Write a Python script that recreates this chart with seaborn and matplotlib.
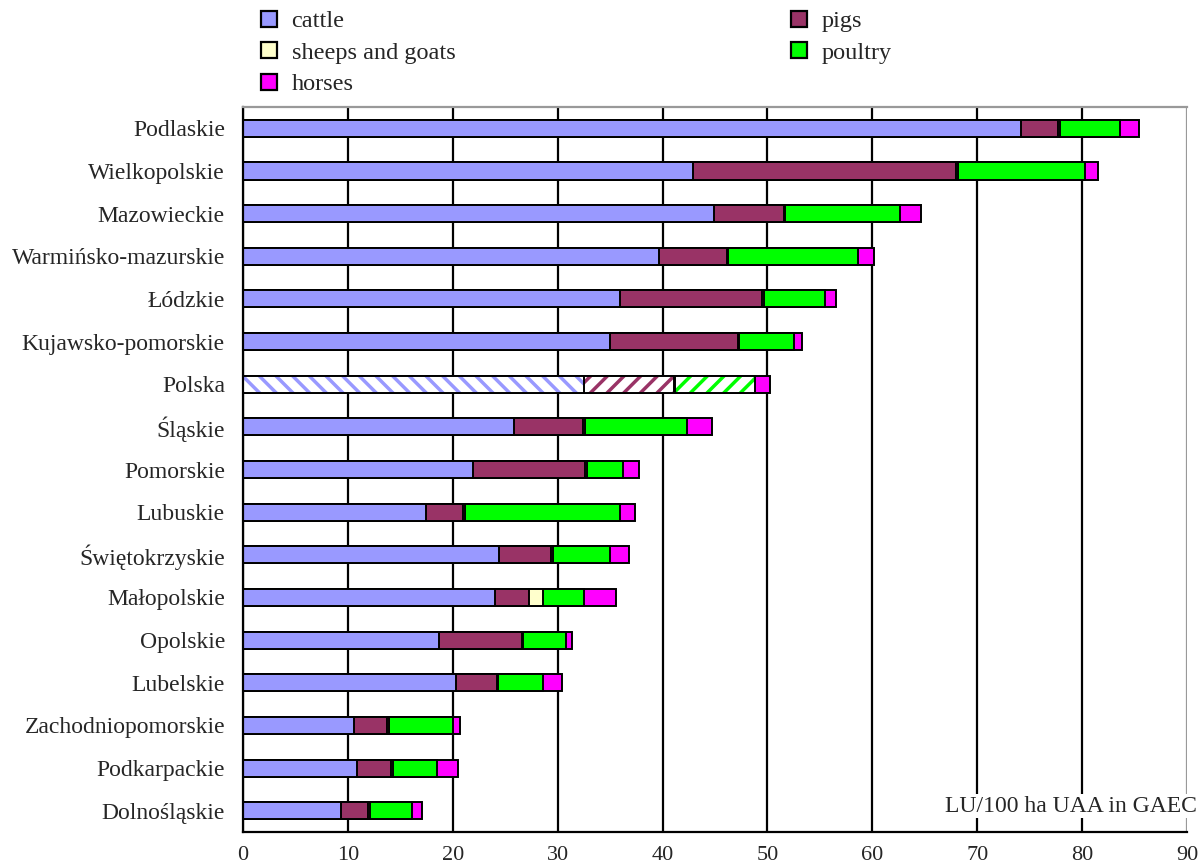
import matplotlib
matplotlib.use('Agg')
import matplotlib.pyplot as plt
from matplotlib.lines import Line2D
import matplotlib.colors as mcolors
import pandas as pd
import seaborn as sns
import numpy as np

regions = ['Podlaskie', 'Wielkopolskie', 'Mazowieckie', 'Warmińsko-mazurskie',
           'Łódzkie', 'Kujawsko-pomorskie', 'Polska', 'Śląskie', 'Pomorskie',
           'Lubuskie', 'Świętokrzyskie', 'Małopolskie', 'Opolskie', 'Lubelskie',
           'Zachodniopomorskie', 'Podkarpackie', 'Dolnośląskie']

cattle = [74.2, 42.9, 44.9, 39.7, 35.9, 35.0, 32.5, 25.8, 21.9, 17.4, 24.4, 24.0, 18.7, 20.3, 10.6, 10.9, 9.3]
pigs = [3.5, 25.1, 6.7, 6.4, 13.6, 12.2, 8.6, 6.6, 10.7, 3.6, 5.0, 3.3, 7.9, 3.9, 3.1, 3.2, 2.6]
sheep = [0.2, 0.2, 0.1, 0.1, 0.2, 0.1, 0.1, 0.2, 0.2, 0.2, 0.2, 1.3, 0.1, 0.1, 0.2, 0.2, 0.2]
poultry = [5.7, 12.1, 10.9, 12.4, 5.8, 5.2, 7.6, 9.7, 3.4, 14.7, 5.4, 3.9, 4.1, 4.3, 6.1, 4.2, 4.0]
horses = [1.8, 1.2, 2.0, 1.6, 1.0, 0.8, 1.4, 2.4, 1.6, 1.5, 1.8, 3.1, 0.6, 1.8, 0.7, 2.0, 1.0]

series = ['cattle', 'pigs', 'sheep', 'poultry', 'horses']
labels = {'cattle': 'cattle', 'pigs': 'pigs', 'sheep': 'sheeps and goats',
          'poultry': 'poultry', 'horses': 'horses'}
colors = {'cattle': '#9999FF', 'pigs': '#993366', 'sheep': '#FFFFCC',
          'poultry': '#00FF00', 'horses': '#FF00FF'}
hatches = {'cattle': '\\\\', 'pigs': '//', 'sheep': '//', 'poultry': '//', 'horses': None}


def main():
    df = pd.DataFrame({'region': regions, 'cattle': cattle, 'pigs': pigs,
                       'sheep': sheep, 'poultry': poultry, 'horses': horses})
    cum = df[series].cumsum(axis=1)
    cum['region'] = df['region']

    sns.set_style('white')
    plt.rcParams['font.family'] = ['Liberation Serif', 'DejaVu Serif']
    plt.rcParams['hatch.linewidth'] = 2.5

    fig = plt.figure(figsize=(12.02, 8.65), dpi=100)
    ax = fig.add_axes([243 / 1202, 1 - 832 / 865, (1187 - 243) / 1202, (832 - 107) / 865])

    polska = regions.index('Polska')
    # stack by drawing the cumulative totals from the longest to the shortest
    for s in series[::-1]:
        sns.barplot(data=cum, x=s, y='region', orient='h', color=colors[s],
                    saturation=1, edgecolor='black', linewidth=1.4, width=0.4,
                    ax=ax, zorder=2)
        bar = ax.containers[-1][polska]
        if hatches[s]:
            bar.set_facecolor('white')
            bar.set_hatch(hatches[s])
            bar._hatch_color = mcolors.to_rgba(colors[s])

    ax.set_xlim(0, 90)
    ax.set_ylim(16.5, -0.5)
    ax.set_xticks(np.arange(0, 91, 10))
    ax.set_xlabel('')
    ax.set_ylabel('')

    ax.grid(axis='x', color='black', linewidth=1.6)
    ax.grid(axis='y', visible=False)
    ax.set_axisbelow(True)
    ax.xaxis.get_gridlines()[-1].set_color('#999999')

    ax.set_yticks(np.arange(-0.5, 17), minor=True)
    ax.tick_params(axis='y', which='major', length=0, pad=13, labelsize=17)
    ax.tick_params(axis='y', which='minor', length=6, width=1.5, direction='out', color='black')
    ax.tick_params(axis='x', which='major', length=12, width=1.5, direction='inout',
                   color='black', labelsize=16, pad=4)

    for side in ['left', 'bottom']:
        ax.spines[side].set_color('black')
        ax.spines[side].set_linewidth(1.6)
    ax.spines['top'].set_color('#999999')
    ax.spines['top'].set_linewidth(1.6)
    ax.spines['right'].set_visible(False)

    fig.text(1197 / 1202, 1 - 806 / 865, 'LU/100 ha UAA in GAEC', ha='right', va='center',
             fontsize=17, zorder=5,
             bbox=dict(facecolor='white', edgecolor='none', pad=1))

    def handle(s):
        return Line2D([], [], marker='s', linestyle='', markersize=11,
                      markerfacecolor=colors[s], markeredgecolor='black', markeredgewidth=1.6)

    left_keys = ['cattle', 'sheep', 'horses']
    right_keys = ['pigs', 'poultry']
    for keys, x0 in [(left_keys, 260), (right_keys, 790)]:
        fig.legend([handle(k) for k in keys], [labels[k] for k in keys],
                   loc='upper left', bbox_to_anchor=(x0 / 1202, 1 - 10 / 865),
                   frameon=False, fontsize=17.5, handlelength=0.75, handletextpad=0.55,
                   labelspacing=0.4, borderpad=0, borderaxespad=0)

    plt.savefig('out.png', dpi=100)


if __name__ == '__main__':
    main()
